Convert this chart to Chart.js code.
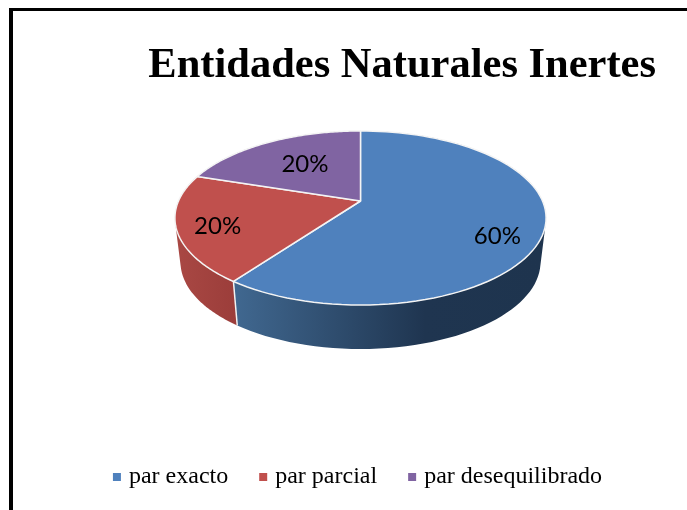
<!DOCTYPE html>
<html><head><meta charset="utf-8">
<script src="https://cdn.jsdelivr.net/npm/chart.js@4"></script>
<style>
html,body{margin:0;padding:0;background:#fff;overflow:hidden}
#wrap{position:relative;width:687px;height:510px}
#frame{position:absolute;left:9px;top:8px;right:0;bottom:0;border-top:3px solid #000;border-left:4px solid #000;pointer-events:none}
canvas{position:absolute;left:0;top:0}
</style></head>
<body><div id="wrap"><canvas id="c" width="687" height="510"></canvas><div id="frame"></div></div>
<script>
const titleText = 'Entidades Naturales Inertes';
const categories = ['par exacto', 'par parcial', 'par desequilibrado'];
const values = [60, 20, 20];
const topColors = ['#4f81bd', '#c0504d', '#8064a2'];
const wallStops = [
  [[0, '#40678f'], [0.62, '#1f3550'], [1, '#1e344e']],
  [[0, '#a84743'], [1, '#9b3d3a']],
  [[0, '#66507f'], [1, '#66507f']]
];
const labelNudges = [[-1, 15], [-5, 5], [17, 9]];

const PERSPECTIVE = 0.1954, SQUASH = 0.46, SAMPLES = 90;
const RIM_CY = 17, BASE_CY = 61, BASE_SX = 0.97, BASE_SY = 1.0;

function project(arc, angle, f) {
  const u = Math.cos(angle) * f, v = Math.sin(angle) * f;
  const w = 1 - PERSPECTIVE * v;
  return [arc.x + arc.outerRadius * u / w, arc.y + arc.outerRadius * SQUASH * v / w];
}
function toBase(arc, p) {
  return [arc.x + (p[0] - arc.x) * BASE_SX,
          arc.y + BASE_CY + (p[1] - arc.y - RIM_CY) * BASE_SY];
}
function rim(arc) {
  const pts = [];
  for (let i = 0; i <= SAMPLES; i++) {
    pts.push(project(arc, arc.startAngle + (arc.endAngle - arc.startAngle) * i / SAMPLES, 1));
  }
  return pts;
}
function addQuad(ctx, q) {
  let area = 0;
  q.forEach((p, i) => {
    const n = q[(i + 1) % 4];
    area += p[0] * n[1] - n[0] * p[1];
  });
  const pts = area < 0 ? q.slice().reverse() : q;
  pts.forEach((p, i) => i ? ctx.lineTo(p[0], p[1]) : ctx.moveTo(p[0], p[1]));
  ctx.closePath();
}

const tiltedPie = {
  id: 'tiltedPie',
  afterLayout(chart) {
    const cx = 360.5, cy = 201, r = 182;
    chart.chartArea = {left: cx - r, right: cx + r, top: cy - r, bottom: cy + r, width: 2 * r, height: 2 * r};
  },
  beforeDatasetDraw(chart, args) {
    const ctx = chart.ctx, arcs = args.meta.data;
    ctx.save();
    // walls, back to front: one path made of one quad per rim step
    [2, 1, 0].forEach(i => {
      const arc = arcs[i], top = rim(arc), base = top.map(p => toBase(arc, p));
      const xs = base.map(p => p[0]);
      const g = ctx.createLinearGradient(Math.min(...xs), 0, Math.max(...xs), 0);
      wallStops[i].forEach(s => g.addColorStop(s[0], s[1]));
      ctx.beginPath();
      for (let n = 0; n < SAMPLES; n++) {
        addQuad(ctx, [top[n], top[n + 1], base[n + 1], base[n]]);
      }
      ctx.fillStyle = g;
      ctx.fill('nonzero');
    });
    // white seam on the wall between the front slices
    const seamTop = project(arcs[1], arcs[1].startAngle, 1), seamBase = toBase(arcs[1], seamTop);
    ctx.strokeStyle = '#f2f2f2';
    ctx.lineWidth = 1.5;
    ctx.beginPath(); ctx.moveTo(seamTop[0], seamTop[1]); ctx.lineTo(seamBase[0], seamBase[1]); ctx.stroke();
    // top faces
    arcs.forEach(arc => {
      const c = project(arc, 0, 0);
      ctx.beginPath();
      ctx.moveTo(c[0], c[1]);
      rim(arc).forEach(p => ctx.lineTo(p[0], p[1]));
      ctx.closePath();
      ctx.fillStyle = arc.options.backgroundColor;
      ctx.fill();
      ctx.strokeStyle = '#f4f4f4';
      ctx.lineWidth = 1.5;
      ctx.lineJoin = 'round';
      ctx.stroke();
    });
    // value labels
    ctx.fillStyle = '#000';
    ctx.font = '24px Lato';
    ctx.textAlign = 'center';
    ctx.textBaseline = 'middle';
    arcs.forEach((arc, i) => {
      const p = project(arc, (arc.startAngle + arc.endAngle) / 2, 0.76);
      ctx.fillText(values[i] + '%', p[0] + labelNudges[i][0], p[1] + labelNudges[i][1]);
    });
    ctx.restore();
    return false;
  }
};

new Chart(document.getElementById('c'), {
  type: 'pie',
  data: {
    labels: categories,
    datasets: [{data: values, backgroundColor: topColors, borderWidth: 0}]
  },
  options: {
    responsive: false,
    animation: false,
    layout: {padding: {left: 63, right: 31, top: 0, bottom: 11}},
    plugins: {
      tooltip: {enabled: false},
      title: {
        display: true, text: titleText, align: 'end', color: '#000',
        font: {family: 'Liberation Serif', weight: 'bold', size: 42.5},
        padding: {top: 41, bottom: 10}
      },
      legend: {
        position: 'bottom',
        labels: {
          color: '#000',
          font: {family: 'Liberation Serif', size: 24},
          usePointStyle: true, pointStyle: 'rect',
          boxHeight: 8, boxWidth: 0.01, padding: 35
        }
      }
    }
  },
  plugins: [tiltedPie]
});
</script>
</body></html>
